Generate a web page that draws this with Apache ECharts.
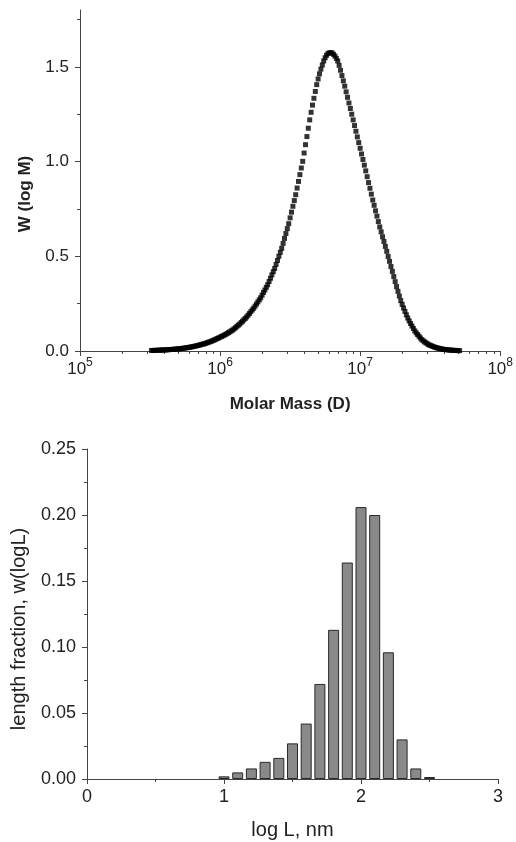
<!DOCTYPE html>
<html><head><meta charset="utf-8">
<script src="https://cdn.jsdelivr.net/npm/echarts@6/dist/echarts.min.js"></script>
<style>html,body{margin:0;padding:0;background:#fff}#c{width:516px;height:842px}</style>
</head><body><div id="c"></div>
<script>
// ---- Top panel: molar mass distribution (log M, W(log M)) ----
const massLogM = [
5.51,5.52,5.53,5.54,5.55,5.56,5.57,5.58,5.59,5.60,
5.61,5.62,5.63,5.64,5.65,5.66,5.67,5.68,5.69,5.70,
5.71,5.72,5.73,5.74,5.75,5.76,5.77,5.78,5.79,5.80,
5.81,5.82,5.83,5.84,5.85,5.86,5.87,5.88,5.89,5.90,
5.91,5.92,5.93,5.94,5.95,5.96,5.97,5.98,5.99,6.00,
6.01,6.02,6.03,6.04,6.05,6.06,6.07,6.08,6.09,6.10,
6.11,6.12,6.13,6.14,6.15,6.16,6.17,6.18,6.19,6.20,
6.21,6.22,6.23,6.24,6.25,6.26,6.27,6.28,6.29,6.30,
6.31,6.32,6.33,6.34,6.35,6.36,6.37,6.38,6.39,6.40,
6.41,6.42,6.43,6.44,6.45,6.46,6.47,6.48,6.49,6.50,
6.51,6.52,6.53,6.54,6.55,6.56,6.57,6.58,6.59,6.60,
6.61,6.62,6.63,6.64,6.65,6.66,6.67,6.68,6.69,6.70,
6.71,6.72,6.73,6.74,6.75,6.76,6.77,6.78,6.79,6.80,
6.81,6.82,6.83,6.84,6.85,6.86,6.87,6.88,6.89,6.90,
6.91,6.92,6.93,6.94,6.95,6.96,6.97,6.98,6.99,7.00,
7.01,7.02,7.03,7.04,7.05,7.06,7.07,7.08,7.09,7.10,
7.11,7.12,7.13,7.14,7.15,7.16,7.17,7.18,7.19,7.20,
7.21,7.22,7.23,7.24,7.25,7.26,7.27,7.28,7.29,7.30,
7.31,7.32,7.33,7.34,7.35,7.36,7.37,7.38,7.39,7.40,
7.41,7.42,7.43,7.44,7.45,7.46,7.47,7.48,7.49,7.50,
7.51,7.52,7.53,7.54,7.55,7.56,7.57,7.58,7.59,7.60,
7.61,7.62,7.63,7.64,7.65,7.66,7.67,7.68,7.69,7.70,
7.71];
const massW = [
0.0028,0.0030,0.0032,0.0035,0.0038,0.0041,0.0045,0.0048,0.0051,0.0055,
0.0060,0.0064,0.0069,0.0074,0.0080,0.0086,0.0092,0.0098,0.0105,0.0113,
0.0122,0.0130,0.0139,0.0148,0.0159,0.0171,0.0183,0.0195,0.0207,0.0222,
0.0238,0.0254,0.0271,0.0288,0.0308,0.0329,0.0350,0.0369,0.0388,0.0415,
0.0442,0.0468,0.0494,0.0520,0.0554,0.0589,0.0623,0.0658,0.0692,0.0729,
0.0766,0.0803,0.0839,0.0876,0.0923,0.0970,0.1016,0.1063,0.111,0.117,
0.123,0.130,0.136,0.142,0.150,0.157,0.165,0.172,0.180,0.189,
0.198,0.208,0.217,0.226,0.237,0.248,0.259,0.270,0.281,0.295,
0.309,0.322,0.336,0.350,0.367,0.384,0.402,0.419,0.436,0.457,
0.478,0.500,0.521,0.542,0.568,0.594,0.620,0.646,0.672,0.703,
0.733,0.764,0.794,0.825,0.860,0.895,0.931,0.966,1.001,1.045,
1.089,1.132,1.176,1.220,1.260,1.298,1.334,1.370,1.406,1.436,
1.463,1.488,1.510,1.531,1.548,1.561,1.570,1.574,1.575,1.573,
1.566,1.557,1.545,1.531,1.508,1.482,1.454,1.426,1.398,1.368,
1.339,1.309,1.280,1.250,1.220,1.190,1.160,1.130,1.100,1.070,
1.040,1.011,0.981,0.951,0.920,0.889,0.859,0.828,0.797,0.769,
0.740,0.712,0.683,0.655,0.629,0.603,0.578,0.552,0.526,0.499,
0.473,0.446,0.420,0.393,0.366,0.340,0.315,0.290,0.266,0.246,
0.227,0.209,0.191,0.174,0.159,0.145,0.132,0.119,0.106,0.096,
0.087,0.078,0.069,0.060,0.054,0.048,0.043,0.038,0.033,0.030,
0.027,0.024,0.021,0.018,0.0163,0.0146,0.0128,0.0111,0.0094,0.0084,
0.0075,0.0067,0.0058,0.0049,0.0044,0.0039,0.0034,0.0029,0.0024,0.0021,
0.0018];
const massMajorTicks = [1e5,1e6,1e7,1e8];
const massMinorTicks = [2e5,3e5,4e5,5e5,6e5,7e5,8e5,9e5,2e6,3e6,4e6,5e6,6e6,7e6,8e6,9e6,2e7,3e7,4e7,5e7,6e7,7e7,8e7,9e7];
const wMajorTicks = [0, 0.5, 1.0, 1.5];
const wMinorTicks = [0.25, 0.75, 1.25, 1.75];

// ---- Bottom panel: length distribution histogram ----
const lenBins = [1.0,1.1,1.2,1.3,1.4,1.5,1.6,1.7,1.8,1.9,2.0,2.1,2.2,2.3,2.4,2.5];
const lenFrac = [0.002,0.005,0.008,0.013,0.016,0.027,0.042,0.072,0.113,0.164,0.206,0.200,0.096,0.030,0.008,0.0015];

const FONT = 'Liberation Sans, Arial, Helvetica, sans-serif';
const TXT = '#222';
const AX = '#444';

const chart = echarts.init(document.getElementById('c'), null, {renderer: 'canvas'});
chart.setOption({
  animation: false,
  backgroundColor: '#fff',
  grid: [
    {left: 80, top: 10, width: 422, height: 341},
    {left: 87, top: 449, width: 411, height: 330}
  ],
  xAxis: [
    {
      gridIndex: 0, type: 'log', logBase: 10, min: 1e5, max: 1e8, position: 'bottom',
      name: 'Molar Mass (D)', nameLocation: 'middle', nameGap: 45,
      nameTextStyle: {fontFamily: FONT, fontSize: 17, fontWeight: 'bold', color: TXT},
      axisLine: {show: true, onZero: false, lineStyle: {color: AX, width: 1}},
      axisTick: {show: true, length: 5, customValues: massMajorTicks, lineStyle: {color: AX}},
      splitLine: {show: false},
      axisLabel: {
        margin: 10, color: TXT, fontFamily: FONT, fontSize: 17, customValues: massMajorTicks,
        formatter: v => '10{sup|' + Math.round(Math.log10(v)) + '}',
        rich: {sup: {fontFamily: FONT, fontSize: 12, color: TXT, verticalAlign: 'bottom', lineHeight: 12, padding: [0, 0, 9, 0]}}
      }
    },
    {
      gridIndex: 0, type: 'log', logBase: 10, min: 1e5, max: 1e8, position: 'bottom',
      axisLine: {show: false, onZero: false},
      axisTick: {show: true, length: 3, customValues: massMinorTicks, lineStyle: {color: AX}},
      axisLabel: {show: false}, splitLine: {show: false}
    },
    {
      gridIndex: 1, type: 'value', min: 0, max: 3, interval: 1,
      name: 'log L, nm', nameLocation: 'middle', nameGap: 41,
      nameTextStyle: {fontFamily: FONT, fontSize: 20, color: TXT},
      axisLine: {show: true, onZero: false, lineStyle: {color: AX, width: 1}},
      axisTick: {show: true, length: 5, lineStyle: {color: AX}},
      minorTick: {show: true, splitNumber: 2, length: 3, lineStyle: {color: AX}},
      splitLine: {show: false}, minorSplitLine: {show: false},
      axisLabel: {margin: 9, color: TXT, fontFamily: FONT, fontSize: 18}
    }
  ],
  yAxis: [
    {
      gridIndex: 0, type: 'value', min: 0, max: 1.8, position: 'left',
      name: 'W (log M)', nameLocation: 'middle', nameGap: 46,
      nameTextStyle: {fontFamily: FONT, fontSize: 17, fontWeight: 'bold', color: TXT, padding: [0, 27, 0, 0]},
      axisLine: {show: true, onZero: false, lineStyle: {color: AX, width: 1}},
      axisTick: {show: true, length: 5, customValues: wMajorTicks, lineStyle: {color: AX}},
      axisLabel: {margin: 11, color: TXT, fontFamily: FONT, fontSize: 17, customValues: wMajorTicks, formatter: v => v.toFixed(1)},
      splitLine: {show: false}
    },
    {
      gridIndex: 0, type: 'value', min: 0, max: 1.8, position: 'left',
      axisLine: {show: false, onZero: false},
      axisTick: {show: true, length: 3, customValues: wMinorTicks, lineStyle: {color: AX}},
      axisLabel: {show: false}, splitLine: {show: false}
    },
    {
      gridIndex: 1, type: 'value', min: 0, max: 0.25, interval: 0.05,
      name: 'length fraction, w(logL)', nameLocation: 'middle', nameGap: 58,
      nameTextStyle: {fontFamily: FONT, fontSize: 20, color: TXT, padding: [0, 30, 0, 0]},
      axisLine: {show: true, onZero: false, lineStyle: {color: AX, width: 1}},
      axisTick: {show: true, length: 5, lineStyle: {color: AX}},
      minorTick: {show: true, splitNumber: 2, length: 3, lineStyle: {color: AX}},
      splitLine: {show: false}, minorSplitLine: {show: false},
      axisLabel: {margin: 11, color: TXT, fontFamily: FONT, fontSize: 18, formatter: v => v.toFixed(2)}
    }
  ],
  series: [
    {
      type: 'scatter', xAxisIndex: 0, yAxisIndex: 0,
      symbol: 'rect', symbolSize: 5,
      itemStyle: {color: '#000'},
      data: massLogM.map((lm, i) => [Math.pow(10, lm), massW[i]]),
      silent: true
    },
    {
      type: 'bar', xAxisIndex: 2, yAxisIndex: 2,
      barWidth: 11,
      itemStyle: {color: '#898989', borderColor: '#2a2a2a', borderWidth: 1},
      data: lenBins.map((b, i) => [b, lenFrac[i]]),
      silent: true
    }
  ]
});
</script>
</body></html>
